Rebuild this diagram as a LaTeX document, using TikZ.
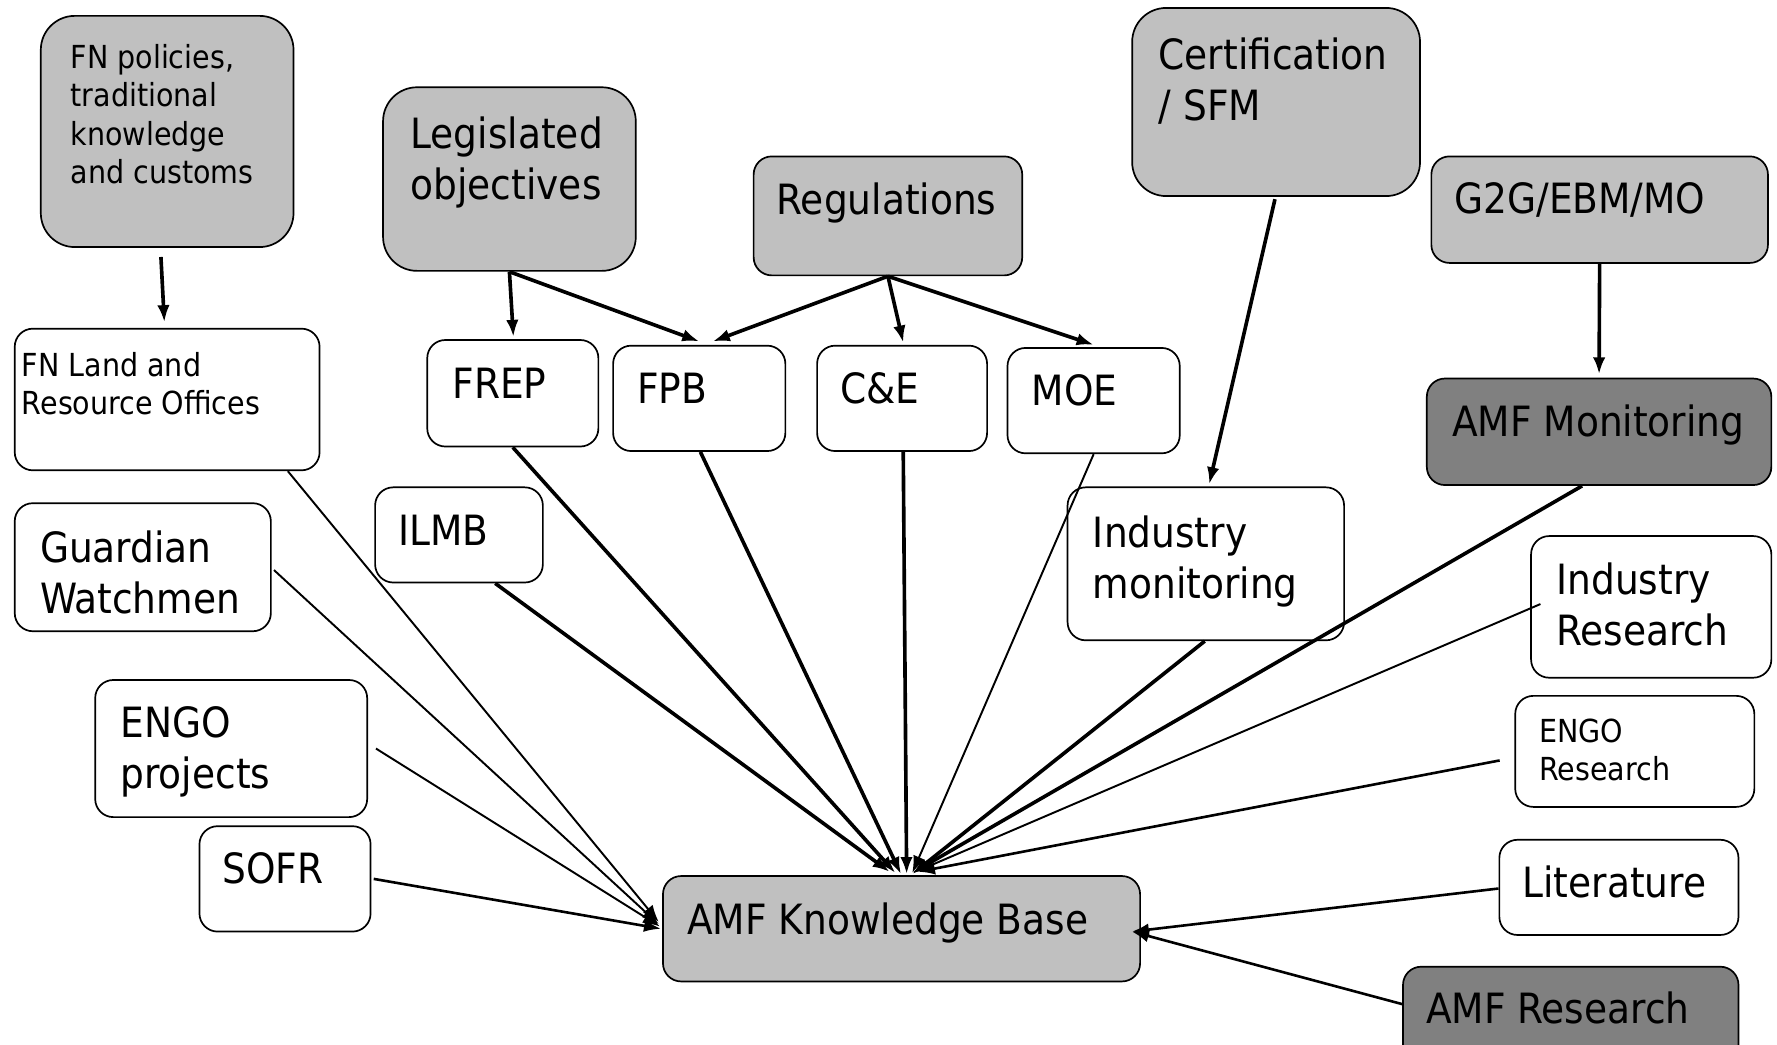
\documentclass[tikz,border=0pt]{standalone}
\usepackage{fontspec}
\setmainfont{DejaVu Sans Condensed}
\usetikzlibrary{arrows.meta}

\definecolor{boxgray}{HTML}{C0C0C0}
\definecolor{boxdark}{HTML}{808080}

% rounded box given by its corners (x1,y1)-(x2,y2)
\newcommand{\mkbox}[6]{%
  \node[#1, minimum width={(#5-#3)*0.5pt}, minimum height={(#6-#4)*0.5pt}]
    (#2) at ({(#3+#5)/2},{(#4+#6)/2}) {};}
% box text, first baseline at (x,y)
\newcommand{\mktext}[5]{%
  \node[#4, inner sep=0pt, anchor=base west] (#1) at (#2,#3)
    {\parbox[t]{12cm}{\raggedright #5}};}

\tikzset{
  box/.style={draw=black, line width=0.75pt, rounded corners=8pt, inner sep=0pt},
  tall/.style={rounded corners=15pt},
  plain/.style={box, fill=white},
  light/.style={box, fill=boxgray},
  dark/.style={box, fill=boxdark},
  big/.style={font=\fontsize{18.4}{22.5}\selectfont},
  small/.style={font=\fontsize{14}{17}\selectfont},
  feed/.style={-{Latex[length=7.5pt,width=5.5pt]}, line width=1.6pt},
  feedthin/.style={feed, line width=0.85pt},
  feedmid/.style={feed, line width=1.15pt},
}

\begin{document}
\begin{tikzpicture}[x=0.5pt, y=-0.5pt]
\useasboundingbox (0,0) rectangle (1568,922);
\clip (0,0) rectangle (1568,922);

% ---- boxes ----
\mkbox{light,tall}{fnpol}{36}{14}{259}{218}
\mkbox{light,tall}{legis}{338}{77}{561}{239}
\mkbox{light}{regs}{665}{138}{902}{243}
\mkbox{light,tall}{cert}{999}{7}{1253}{173}
\mkbox{light}{g2g}{1263}{138}{1560}{232}
\mkbox{dark}{amfmon}{1259}{334}{1563}{428}
\mkbox{plain}{fnland}{13}{290}{282}{415}
\mkbox{plain}{frep}{377}{300}{528}{394}
\mkbox{plain}{fpb}{541}{305}{693}{398}
\mkbox{plain}{ce}{721}{305}{871}{398}
\mkbox{plain}{moe}{889}{307}{1041}{400}
\mkbox{plain}{ilmb}{331}{430}{479}{514}
\mkbox{plain}{guard}{13}{444}{239}{557}
\mkbox{plain}{indmon}{942}{430}{1186}{565}
\mkbox{plain}{indres}{1351}{473}{1563}{598}
\mkbox{plain}{engop}{84}{600}{324}{721}
\mkbox{plain}{engor}{1337}{614}{1548}{712}
\mkbox{plain}{sofr}{176}{729}{327}{822}
\mkbox{plain}{lit}{1323}{741}{1534}{825}
\mkbox{light}{kb}{585}{773}{1006}{866}
\mkbox{dark}{amfres}{1238}{853}{1534}{960}

% ---- texts ----
\mktext{fnpol-t}{62}{60}{small}{FN policies,\\traditional\\knowledge\\and customs}
\mktext{legis-t}{362}{131}{big}{Legislated\\objectives}
\mktext{regs-t}{685}{189}{big}{Regulations}
\mktext{cert-t}{1022}{61}{big}{Certification\\/ SFM}
\mktext{g2g-t}{1283}{188}{big}{G2G/EBM/MO}
\mktext{amfmon-t}{1281}{385}{big}{AMF Monitoring}
\mktext{fnland-t}{19}{332}{small}{FN Land and\\Resource Offices}
\mktext{frep-t}{399}{352}{big}{FREP}
\mktext{fpb-t}{562}{356}{big}{FPB}
\mktext{ce-t}{741}{356}{big}{C\&E}
\mktext{moe-t}{910}{358}{big}{MOE}
\mktext{ilmb-t}{351}{481}{big}{ILMB}
\mktext{guard-t}{35}{496}{big}{Guardian\\Watchmen}
\mktext{indmon-t}{964}{483}{big}{Industry\\monitoring}
\mktext{indres-t}{1373}{525}{big}{Industry\\Research}
\mktext{engop-t}{106}{651}{big}{ENGO\\projects}
\mktext{engor-t}{1358}{655}{small}{ENGO\\Research}
\mktext{sofr-t}{196}{780}{big}{SOFR}
\mktext{lit-t}{1343}{792}{big}{Literature}
\mktext{kb-t}{606}{825}{big}{AMF Knowledge Base}
\mktext{amfres-t}{1258}{903}{big}{AMF Research}

% ---- upper tier links ----
\draw[feed] ([shift={(-5.5,8)}]fnpol.south) -- ([shift={(-2.5,-5)}]fnland.north);
\draw[feed] (legis.south) -- ([shift={(0.5,-2)}]frep.north);
\draw[feed] (legis.south) -- ([shift={(0,-3)}]fpb.north);
\draw[feed] (regs.south) -- ([shift={(12,-3)}]fpb.north);
\draw[feed] (regs.south) -- ([shift={(1,-2)}]ce.north);
\draw[feed] (regs.south) -- ([shift={(0,-2)}]moe.north);
\draw[feed] ([shift={(-1,2)}]cert.south) -- ([shift={(3,-2)}]indmon.north);
\draw[feed] (g2g.south) -- ([shift={(0,-3)}]amfmon.north);

% ---- links into the knowledge base, from the top ----
\draw[feed] (frep.south) -- ([shift={(-5.5,-2)}]kb.north);
\draw[feed] ([shift={(32,0)}]ilmb.south) -- ([shift={(-10.5,-3)}]kb.north);
\draw[feed] ([shift={(1,0)}]fpb.south) -- ([shift={(-0.5,-1)}]kb.north);
\draw[feed] ([shift={(1,0)}]ce.south) -- ([shift={(4.5,-1)}]kb.north);
\draw[feedthin] (moe.south) -- ([shift={(9.5,-2)}]kb.north);
\draw[feed] ([shift={(-1,0)}]indmon.south) -- ([shift={(9.5,-1)}]kb.north);
\draw[feed] ([shift={(-15,0)}]amfmon.south) -- ([shift={(9.5,-2)}]kb.north);
\draw[feedthin] ([shift={(9,-2.5)}]indres.west) -- ([shift={(12.5,-3)}]kb.north);
\draw[feedmid] ([shift={(-13,8)}]engor.west) -- ([shift={(14.5,-3)}]kb.north);

% ---- links from the left ----
\draw[feedthin] ([shift={(106.5,0)}]fnland.south) -- ([shift={(-3,-6)}]kb.west);
\draw[feedthin] ([shift={(2,2.5)}]guard.east) -- ([shift={(-3,-4)}]kb.west);
\draw[feedthin] ([shift={(7,0)}]engop.east) -- ([shift={(-2,-2)}]kb.west);
\draw[feedmid] ([shift={(2,0)}]sofr.east) -- ([shift={(-1,0)}]kb.west);

% ---- links from the right ----
\draw[feedmid] ([shift={(0,1)}]lit.west) -- ([shift={(-8,2.5)}]kb.east);
\draw[feedmid] ([shift={(0,-20.5)}]amfres.west) -- ([shift={(-8,2.5)}]kb.east);
\end{tikzpicture}
\end{document}
